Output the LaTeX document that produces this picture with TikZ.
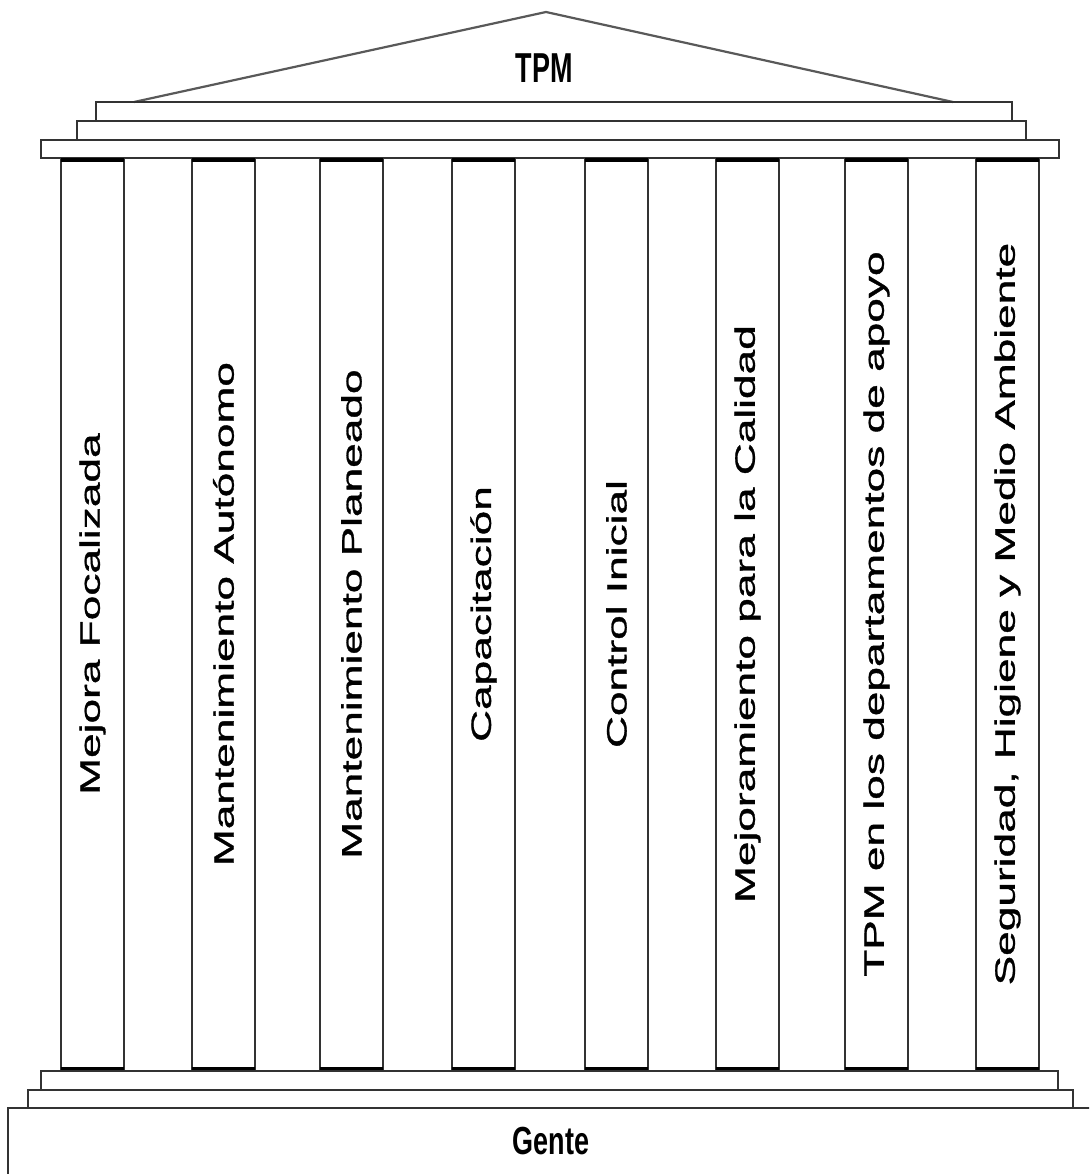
\documentclass[tikz,border=0pt]{standalone}
\usepackage{fontspec}
\setmainfont{Liberation Sans}
\newfontfamily\columnfont[FakeBold=0.9]{Liberation Sans}
\usepackage{graphicx}
\begin{document}
\begin{tikzpicture}[x=1pt,y=-1pt,
  edge/.style={draw=black!80, line width=1.6pt},
  heavy/.style={draw=black, line width=3.5pt},
  rooflines/.style={draw=black!65, line width=2.2pt, line join=round},
  pillartext/.style={rotate=90, inner sep=0pt, font=\columnfont\fontsize{28}{28}\selectfont},
  caption/.style={inner sep=0pt, font=\bfseries\fontsize{27}{27}\selectfont}]
\useasboundingbox (0,0) rectangle (1089,1174);
\clip (0,0) rectangle (1089,1174);

% pediment
\coordinate (roofL) at (134,102);
\coordinate (apex) at (546,12);
\coordinate (roofR) at (953,102);
\draw[rooflines] (roofL) -- (apex) -- (roofR);
\node[caption] (tpm) at (544,68) {\scalebox{1}[1.55]{TPM}};

% entablature steps
\draw[edge] (96,102) rectangle (1012,121);
\draw[edge] (77,121) rectangle (1026,140);
\draw[edge] (41,140) rectangle (1059,158);

% columns with their labels
\foreach \x/\t [count=\i] in {
    61/{Mejora Focalizada},
    192/{Mantenimiento Autónomo},
    320/{Mantenimiento Planeado},
    452/{Capacitación},
    585/{Control Inicial},
    716/{Mejoramiento para la Calidad},
    845/{TPM en los departamentos de apoyo},
    976/{Seguridad, Higiene y Medio Ambiente}} {
  \draw[edge] (\x,158) rectangle (\x+63,1071);
  \draw[heavy] (\x,160) -- (\x+63,160);
  \draw[heavy] (\x,1069) -- (\x+63,1069);
  \node[pillartext] (col\i) at (\x+31.5,614) {\scalebox{1.58}[1]{\t}};
}

% stylobate steps and base
\draw[edge, line width=2.2pt] (41,1071) rectangle (1058,1090);
\draw[edge, line width=2.2pt] (28,1090) rectangle (1073,1108);
\draw[edge, line width=2.2pt] (8,1108) rectangle (1100,1190);
\node[caption] (gente) at (551,1141) {\scalebox{1}[1.45]{Gente}};
\end{tikzpicture}
\end{document}
